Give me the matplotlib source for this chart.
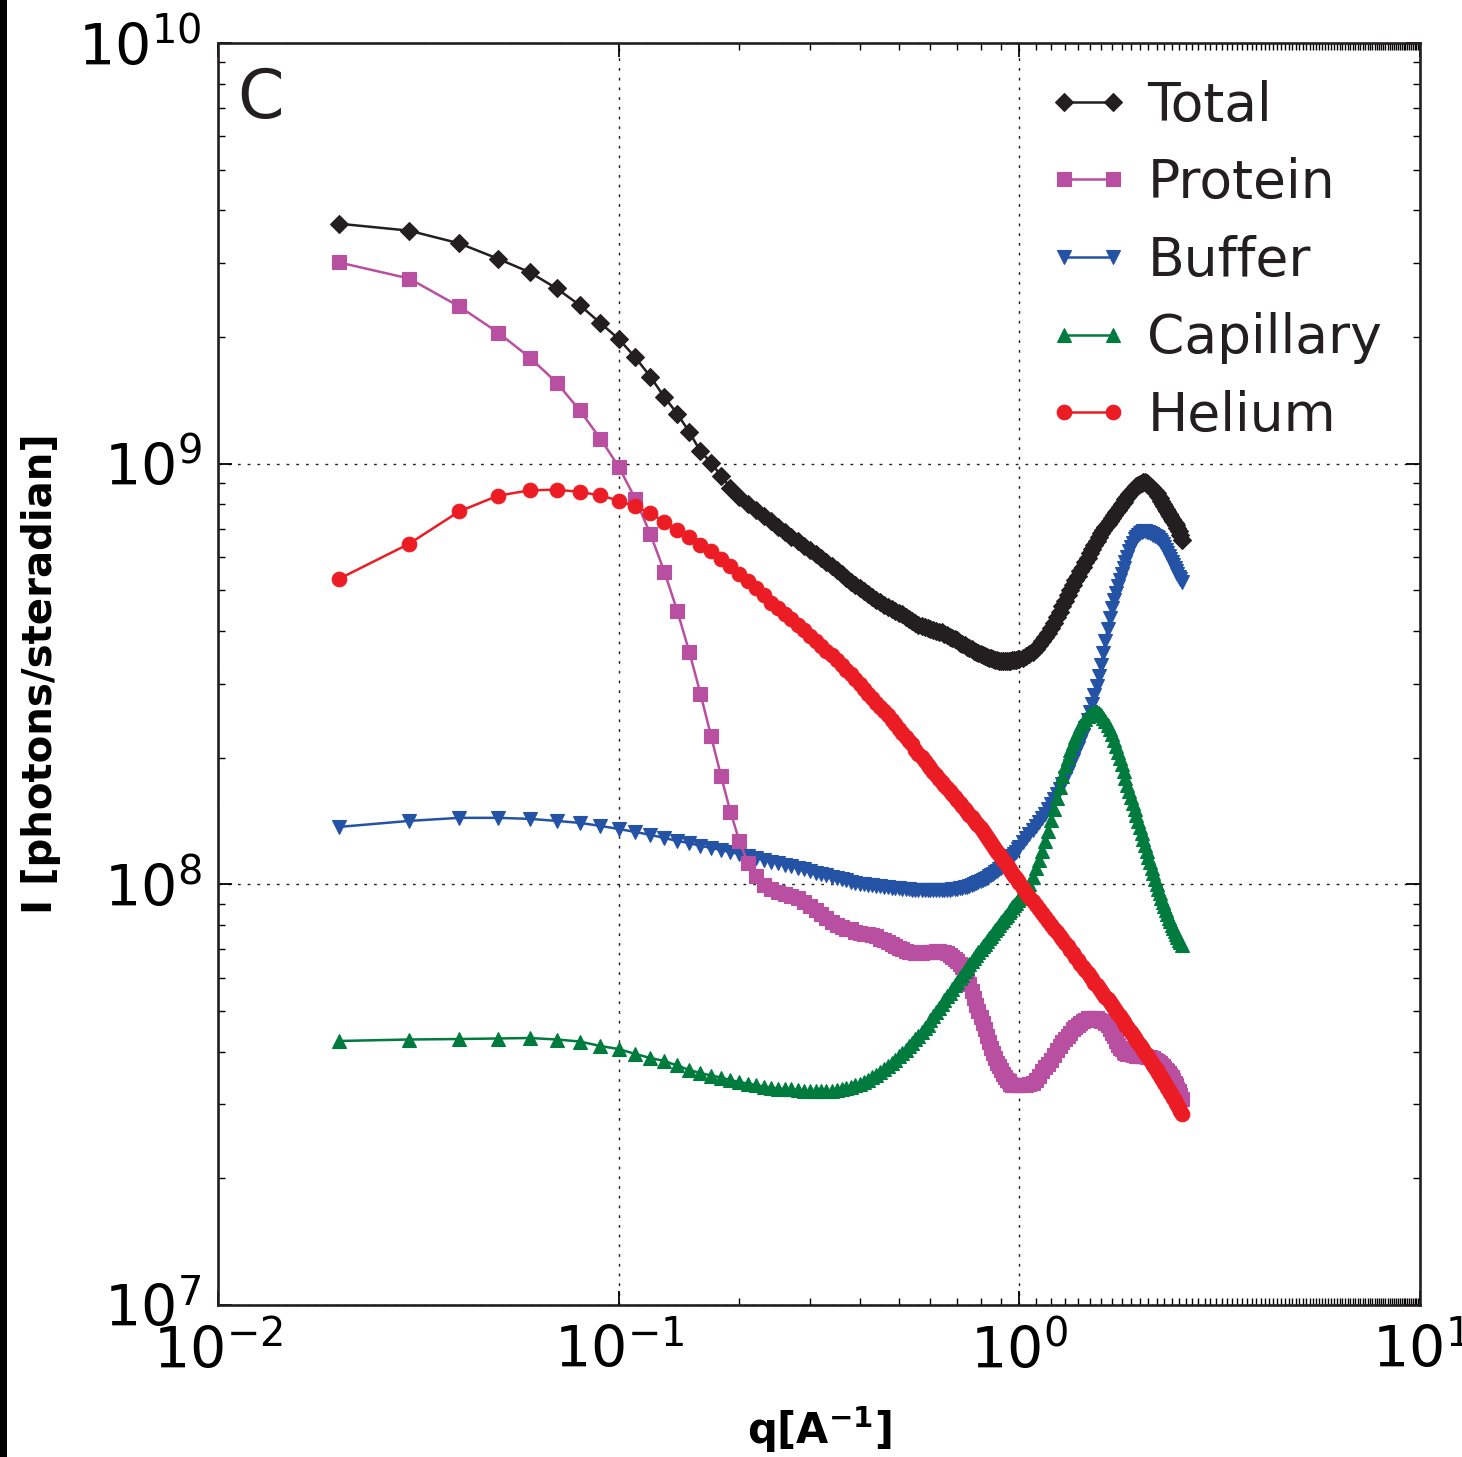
import numpy as np
import matplotlib
matplotlib.use("Agg")
import matplotlib.pyplot as plt
from matplotlib.ticker import FixedLocator, LogLocator, NullFormatter
from matplotlib.patches import Rectangle

# ---------------- data (intensity in units of 1e8 photons/steradian) ----------------
q_fine = np.linspace(0.02, 1.00, 99)     # step 0.01
q_coarse = np.linspace(1.02, 2.54, 77)   # step 0.02
q = np.concatenate([q_fine, q_coarse])
UNIT = 1e8

total = [
    37.2, 35.8, 33.4, 30.7, 28.5, 26.1, 23.8, 21.6, 19.8, 17.9,
    16.1, 14.4, 13.15, 11.9, 10.7, 10.06, 9.36, 8.77, 8.35, 8.03,
    7.77, 7.52, 7.32, 7.08, 6.89, 6.70, 6.56, 6.38, 6.25, 6.11,
    5.98, 5.85, 5.72, 5.60, 5.48, 5.36, 5.24, 5.16, 5.07, 4.99,
    4.91, 4.83, 4.75, 4.70, 4.62, 4.57, 4.52, 4.47, 4.42, 4.38,
    4.33, 4.28, 4.23, 4.19, 4.14, 4.12, 4.10, 4.07, 4.05, 4.03,
    4.01, 3.99, 3.97, 3.94, 3.92, 3.88, 3.86, 3.82, 3.80, 3.75,
    3.73, 3.71, 3.67, 3.65, 3.63, 3.59, 3.57, 3.55, 3.535, 3.515,
    3.496, 3.477, 3.458, 3.458, 3.439, 3.42, 3.42, 3.40, 3.40, 3.40,
    3.40, 3.40, 3.40, 3.40, 3.42, 3.42, 3.42, 3.44, 3.44,
    3.458, 3.496, 3.535, 3.574, 3.633, 3.713, 3.795, 3.880, 3.965, 4.074,
    4.188, 4.328, 4.448, 4.596, 4.724, 4.881, 5.017, 5.155, 5.299, 5.415,
    5.566, 5.689, 5.848, 5.977, 6.143, 6.279, 6.417, 6.560, 6.705, 6.853,
    6.967, 7.081, 7.198, 7.318, 7.438, 7.561, 7.688, 7.773, 7.901, 8.031,
    8.120, 8.254, 8.345, 8.483, 8.577, 8.672, 8.767, 8.864, 8.913, 8.962,
    9.011, 9.060, 9.060, 9.011, 8.913, 8.864, 8.767, 8.672, 8.625, 8.530,
    8.390, 8.300, 8.165, 8.031, 7.944, 7.816, 7.730, 7.604, 7.520, 7.398,
    7.318, 7.238, 7.159, 7.042, 6.929, 6.779, 6.596,
]

protein = [
    30.1, 27.55, 23.64, 20.50, 17.88, 15.59, 13.38, 11.47, 9.84, 8.255,
    6.80, 5.54, 4.47, 3.574, 2.84, 2.257, 1.813, 1.489, 1.270, 1.126,
    1.049, 0.998, 0.977, 0.961, 0.950, 0.940, 0.930, 0.910, 0.890, 0.871,
    0.852, 0.833, 0.815, 0.802, 0.793, 0.785, 0.781, 0.772, 0.768, 0.764,
    0.760, 0.756, 0.752, 0.743, 0.739, 0.731, 0.723, 0.715, 0.707, 0.700,
    0.696, 0.692, 0.689, 0.685, 0.685, 0.685, 0.689, 0.689, 0.692, 0.692,
    0.696, 0.696, 0.692, 0.689, 0.685, 0.681, 0.673, 0.666, 0.659, 0.648,
    0.637, 0.620, 0.600, 0.578, 0.559, 0.538, 0.518, 0.501, 0.485, 0.467,
    0.452, 0.437, 0.423, 0.409, 0.398, 0.387, 0.377, 0.369, 0.361, 0.355,
    0.349, 0.3435, 0.340, 0.336, 0.334, 0.3325, 0.3325, 0.3325, 0.3325,
    0.3325, 0.334, 0.336, 0.338, 0.3435, 0.351, 0.359, 0.367, 0.375, 0.383,
    0.392, 0.403, 0.412, 0.421, 0.430, 0.437, 0.444, 0.452, 0.459, 0.464,
    0.469, 0.474, 0.477, 0.480, 0.480, 0.480, 0.480, 0.480, 0.477, 0.474,
    0.472, 0.467, 0.462, 0.454, 0.444, 0.435, 0.425, 0.416, 0.409, 0.405,
    0.400, 0.398, 0.396, 0.394, 0.394, 0.392, 0.392, 0.390, 0.390, 0.390,
    0.390, 0.390, 0.390, 0.388, 0.388, 0.388, 0.386, 0.386, 0.383, 0.381,
    0.379, 0.377, 0.373, 0.369, 0.365, 0.361, 0.359, 0.357, 0.353, 0.349,
    0.3435, 0.338, 0.3325, 0.327, 0.322, 0.315, 0.308,
]

buffer = [
    1.369, 1.415, 1.439, 1.439, 1.431, 1.415, 1.400, 1.377, 1.354, 1.332,
    1.311, 1.289, 1.268, 1.254, 1.234, 1.221, 1.207, 1.194, 1.181, 1.168,
    1.156, 1.143, 1.131, 1.124, 1.112, 1.106, 1.094, 1.088, 1.076, 1.064,
    1.059, 1.053, 1.041, 1.036, 1.030, 1.022, 1.013, 1.008, 1.002, 1.000,
    0.997, 0.994, 0.991, 0.989, 0.986, 0.983, 0.981, 0.981, 0.978, 0.975,
    0.975, 0.973, 0.970, 0.970, 0.970, 0.967, 0.967, 0.967, 0.967, 0.967,
    0.967, 0.967, 0.967, 0.970, 0.970, 0.970, 0.973, 0.975, 0.975, 0.978,
    0.981, 0.983, 0.986, 0.991, 0.997, 1.002, 1.008, 1.013, 1.019, 1.024,
    1.030, 1.036, 1.044, 1.053, 1.059, 1.067, 1.076, 1.085, 1.094, 1.106,
    1.118, 1.131, 1.143, 1.156, 1.168, 1.181, 1.194, 1.211, 1.227,
    1.261, 1.289, 1.318, 1.347, 1.377, 1.407, 1.439, 1.471, 1.511, 1.553,
    1.596, 1.641, 1.686, 1.733, 1.791, 1.851, 1.913, 1.976, 2.042, 2.111,
    2.181, 2.266, 2.355, 2.460, 2.570, 2.686, 2.821, 2.964, 3.131, 3.326,
    3.552, 3.793, 4.050, 4.302, 4.544, 4.748, 4.934, 5.127, 5.297, 5.475,
    5.657, 5.845, 6.008, 6.209, 6.346, 6.487, 6.631, 6.704, 6.779, 6.853,
    6.891, 6.910, 6.910, 6.891, 6.872, 6.853, 6.815, 6.779, 6.742, 6.704,
    6.650, 6.595, 6.523, 6.434, 6.346, 6.243, 6.141, 6.042, 5.942, 5.845,
    5.750, 5.657, 5.565, 5.475, 5.385, 5.310, 5.240,
]

capillary = [
    0.4242, 0.4277, 0.4288, 0.4300, 0.4312, 0.4277, 0.4230, 0.4127, 0.4060, 0.3951,
    0.3865, 0.3802, 0.3710, 0.3619, 0.3560, 0.3512, 0.3473, 0.3426, 0.3389, 0.3361,
    0.3333, 0.3306, 0.3288, 0.3270, 0.3261, 0.3253, 0.3244, 0.3235, 0.3226, 0.3226,
    0.3226, 0.3226, 0.3235, 0.3244, 0.3262, 0.3280, 0.3306, 0.3333, 0.3361, 0.3389,
    0.3435, 0.3483, 0.3531, 0.3580, 0.3639, 0.3699, 0.3761, 0.3823, 0.3897, 0.3972,
    0.4049, 0.4127, 0.4207, 0.4288, 0.4371, 0.4456, 0.4555, 0.4643, 0.4746, 0.4851,
    0.4959, 0.5069, 0.5181, 0.5296, 0.5413, 0.5518, 0.5640, 0.5748, 0.5859, 0.5973,
    0.6089, 0.6207, 0.6327, 0.6449, 0.6556, 0.6665, 0.6775, 0.6887, 0.7001, 0.7117,
    0.7215, 0.7335, 0.7436, 0.7538, 0.7663, 0.7769, 0.7876, 0.8007, 0.8117, 0.8229,
    0.8342, 0.8457, 0.8574, 0.8692, 0.8812, 0.8934, 0.9032, 0.9157, 0.9283,
    0.9540, 0.9778, 1.0022, 1.0414, 1.0940, 1.1430, 1.2008, 1.2683, 1.3397, 1.4229,
    1.5114, 1.6051, 1.7048, 1.8106, 1.9125, 1.9982, 2.0876, 2.1692, 2.2416, 2.3165,
    2.3808, 2.4335, 2.4738, 2.5079, 2.5356, 2.5565, 2.5705, 2.5705, 2.5565, 2.5286,
    2.4874, 2.4469, 2.3939, 2.3420, 2.2788, 2.2051, 2.1339, 2.0649, 1.9982, 1.9336,
    1.8609, 1.7909, 1.7236, 1.6679, 1.6139, 1.5617, 1.5114, 1.4624, 1.4151, 1.3694,
    1.3252, 1.2823, 1.2409, 1.2008, 1.1620, 1.1275, 1.0940, 1.0616, 1.0300, 1.0022,
    0.9751, 0.9514, 0.9283, 0.9082, 0.8885, 0.8692, 0.8504, 0.8320, 0.8162, 0.8007,
    0.7854, 0.7726, 0.7600, 0.7477, 0.7375, 0.7275, 0.7176,
]

helium = [
    5.318, 6.452, 7.701, 8.393, 8.641, 8.674, 8.566, 8.407, 8.166, 7.915,
    7.617, 7.278, 6.967, 6.679, 6.417, 6.185, 5.933, 5.697, 5.475, 5.268,
    5.056, 4.867, 4.670, 4.544, 4.397, 4.267, 4.140, 4.017, 3.898, 3.793,
    3.690, 3.591, 3.503, 3.418, 3.326, 3.236, 3.157, 3.072, 2.997, 2.916,
    2.837, 2.768, 2.700, 2.642, 2.578, 2.522, 2.460, 2.407, 2.342, 2.291,
    2.242, 2.187, 2.151, 2.088, 2.042, 2.004, 1.960, 1.923, 1.887, 1.851,
    1.816, 1.781, 1.747, 1.719, 1.691, 1.663, 1.636, 1.609, 1.583, 1.557,
    1.532, 1.507, 1.487, 1.4625, 1.443, 1.423, 1.400, 1.381, 1.358, 1.3397,
    1.318, 1.296, 1.275, 1.2545, 1.234, 1.214, 1.194, 1.178, 1.162, 1.143,
    1.1275, 1.112, 1.094, 1.079, 1.0616, 1.047, 1.0329, 1.0188, 1.005,
    0.9805, 0.9540, 0.9309, 0.9107, 0.8910, 0.8716, 0.8527, 0.8342, 0.8162, 0.7985,
    0.7833, 0.7684, 0.7538, 0.7395, 0.7255, 0.7117, 0.6982, 0.6849, 0.6719, 0.6592,
    0.6467, 0.6344, 0.6241, 0.6139, 0.6039, 0.5940, 0.5843, 0.5748, 0.5655, 0.5563,
    0.5473, 0.5398, 0.5325, 0.5252, 0.5167, 0.5082, 0.5000, 0.4918, 0.4851, 0.4785,
    0.4707, 0.4643, 0.4580, 0.4517, 0.4456, 0.4383, 0.4324, 0.4265, 0.4207, 0.4150,
    0.4093, 0.4038, 0.3983, 0.3929, 0.3876, 0.3823, 0.3771, 0.3720, 0.3669, 0.3619,
    0.3570, 0.3521, 0.3473, 0.3426, 0.3379, 0.3333, 0.3288, 0.3244, 0.3200, 0.3156,
    0.3113, 0.3071, 0.3029, 0.2988, 0.2939, 0.2892, 0.2844,
]

labels = ["Total", "Protein", "Buffer", "Capillary", "Helium"]
x_major = [1e-2, 1e-1, 1e0, 1e1]
y_major = [1e7, 1e8, 1e9, 1e10]

# ---------------- figure ----------------
plt.rcParams["font.family"] = ["DejaVu Sans"]
fig = plt.figure(figsize=(14.62, 14.57), dpi=100)
ax = fig.add_axes([218 / 1462, 1 - 1305 / 1457, 1202 / 1462, 1262 / 1457])

styles = {
    "Total":     dict(color="#231f20", marker="D", ms=9.2, zorder=3),
    "Protein":   dict(color="#b94fa0", marker="s", ms=9.8, zorder=4),
    "Buffer":    dict(color="#2453a6", marker="v", ms=10.5, zorder=3),
    "Capillary": dict(color="#007b3e", marker="^", ms=10.5, zorder=5),
    "Helium":    dict(color="#ec1c24", marker="o", ms=10.5, zorder=6),
}
series = {"Total": total, "Protein": protein, "Buffer": buffer,
          "Capillary": capillary, "Helium": helium}

for name in labels:
    st = styles[name]
    ax.plot(q, np.array(series[name]) * UNIT, color=st["color"], marker=st["marker"],
            ms=st["ms"], mec=st["color"], mfc=st["color"], mew=0.8, lw=1.8,
            label=name, zorder=st["zorder"])

ax.set_xscale("log")
ax.set_yscale("log")
ax.set_xlim(1e-2, 1e1)
ax.set_ylim(1e7, 1e10)
ax.set_xticks(x_major)
ax.set_yticks(y_major)

minor_x = [round(v, 1) for v in np.arange(0.2, 0.95, 0.1)] + \
          [round(v, 1) for v in np.arange(1.1, 9.95, 0.1)]
ax.xaxis.set_minor_locator(FixedLocator(minor_x))
ax.xaxis.set_minor_formatter(NullFormatter())
ax.yaxis.set_minor_locator(LogLocator(base=10, subs=np.arange(2, 10)))
ax.yaxis.set_minor_formatter(NullFormatter())

ax.tick_params(which="both", direction="in", top=True, right=True)
ax.tick_params(which="major", length=10, width=1.3, labelsize=41)
ax.tick_params(axis="x", which="major", pad=14)
ax.tick_params(axis="y", which="major", pad=12)
ax.tick_params(which="minor", length=5, width=1.0)

for sp in ax.spines.values():
    sp.set_linewidth(1.9)
    sp.set_color("#231f20")

ax.grid(True, which="major", color="#231f20", linestyle=(0, (2, 5)), linewidth=1.0)
ax.set_axisbelow(True)

ax.set_xlabel(r"q[A$^{\mathbf{-1}}$]", fontsize=30, fontweight="bold")
ax.set_ylabel("I [photons/steradian]", fontsize=29, fontweight="bold")
ax.xaxis.set_label_coords(0.5, -0.079)
ax.yaxis.set_label_coords(-0.131, 0.5)

ax.text(0.016, 0.982, "C", transform=ax.transAxes, fontsize=48,
        va="top", ha="left", color="#231f20")

leg = ax.legend(loc="upper right", bbox_to_anchor=(1.004, 1.005), frameon=False,
                fontsize=38.5, numpoints=2, handlelength=1.5, handletextpad=0.35,
                labelspacing=0.48, borderaxespad=0.4)
for t in leg.get_texts():
    t.set_color("#231f20")

fig.add_artist(Rectangle((0, 0), 7 / 1462, 1, transform=fig.transFigure,
                         facecolor="black", edgecolor="none"))

fig.savefig("out.png", dpi=100)
